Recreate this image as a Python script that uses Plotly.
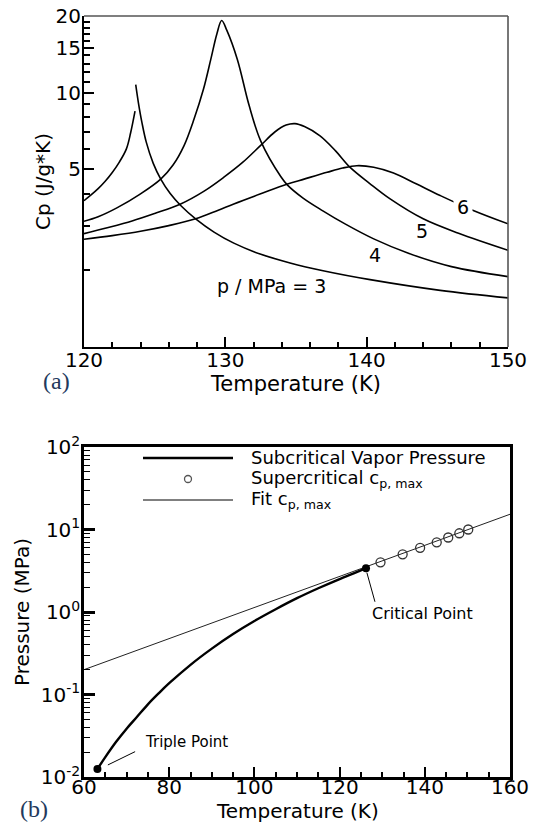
import numpy as np
import plotly.graph_objects as go

# ---------------- Panel (a) data: Cp vs Temperature ----------------
T_p3_liq = [120, 120.5, 121, 121.5, 122, 122.5, 123, 123.3, 123.61]
cp_p3_liq = [3.76, 3.96, 4.19, 4.48, 4.85, 5.33, 6.01, 6.95, 8.45]

T_p3_vap = [123.66, 123.85, 124.1, 124.4, 124.9, 125.43, 126.1, 126.84, 127.9, 129.2,
            130.6, 132.46, 134.58, 137.0, 140.24, 145.2, 150]
cp_p3_vap = [10.74, 9.12, 7.62, 6.40, 5.27, 4.57, 4.01, 3.60, 3.19, 2.83,
             2.56, 2.32, 2.14, 1.99, 1.84, 1.67, 1.56]

T_p4 = [120, 121, 122.36, 124.0, 125.43, 126.3, 127.08, 127.78, 128.45, 128.97, 129.4,
        129.74, 130.1, 130.85, 131.68, 132.5, 133.92, 134.4, 135.5, 136.9, 138.5, 140.5, 143, 146, 150]
cp_p4 = [3.12, 3.25, 3.53, 4.0, 4.57, 5.19, 6.19, 7.85, 10.3, 13.5, 17.0,
         19.2, 17.6, 13.5, 8.91, 6.46, 4.68, 4.33, 3.85, 3.43, 3.04, 2.66, 2.33, 2.07, 1.89]

T_p5 = [120, 121.5, 123.4, 125, 126.84, 128.5, 129.9, 131.2, 132.5, 133.5, 134.3, 134.93,
        135.6, 136.7, 137.8, 138.83, 140.2, 141.66, 144.0, 146.5, 150]
cp_p5 = [2.79, 2.93, 3.13, 3.35, 3.65, 4.1, 4.65, 5.3, 6.2, 7.0, 7.45, 7.55,
         7.35, 6.76, 5.9, 5.08, 4.4, 3.82, 3.19, 2.8, 2.40]

T_p6 = [120, 122, 124, 126, 127.9, 129.5, 130.6, 132.5, 134.4, 135.57, 137.2, 138.3,
        139.3, 140.5, 141.9, 143.5, 145.2, 147.5, 150]
cp_p6 = [2.65, 2.74, 2.85, 3.0, 3.19, 3.45, 3.65, 4.0, 4.37, 4.57, 4.86, 5.05,
         5.16, 5.09, 4.83, 4.38, 3.94, 3.45, 3.05]

# ---------------- Panel (b) data: Pressure vs Temperature ----------------
T_vap = [63.15, 65, 67.5, 70, 72.5, 75, 77.5, 80, 85, 90, 95, 100, 105, 110, 115, 120, 124, 126.2]
p_vap = [0.0125, 0.0174, 0.0265, 0.0385, 0.054, 0.076, 0.103, 0.137, 0.229, 0.360, 0.541,
         0.778, 1.08, 1.47, 1.94, 2.51, 3.04, 3.40]

T_triple = [63.15]
p_triple = [0.0125]
T_crit = [126.2]
p_crit = [3.40]

T_cpmax = [129.6, 134.8, 138.9, 142.8, 145.5, 148.1, 150.2]
p_cpmax = [4, 5, 6, 7, 8, 9, 10]

T_fit = [60, 160]
p_fit = [0.2, 15.3]

cp_ticks = [5, 10, 15, 20]
cp_minor = [2, 3, 4, 6, 7, 8, 9, 11, 12, 13, 14, 16, 17, 18, 19]
p_ticks = [0.01, 0.1, 1, 10, 100]
p_ticktext = ["10<sup>-2</sup>", "10<sup>-1</sup>", "10<sup>0</sup>", "10<sup>1</sup>", "10<sup>2</sup>"]
p_minor = [m * d for d in [0.01, 0.1, 1, 10] for m in range(2, 10)]

FONT = "DejaVu Sans"
OFF = 8  # page body margin of the html page
W, H = 537 - OFF, 822 - OFF
ML, MT = 84 - OFF, 16 - OFF
MR = W - (510 - OFF)
MB = H - (777 - OFF)
PW, PH = W - ML - MR, H - MT - MB

def px(xp):  # page pixel -> paper x
    return (xp - OFF - ML) / PW

def py(yp):  # page pixel -> paper y
    return (H - MB - (yp - OFF)) / PH

fig = go.Figure()

for T, cp in [(T_p3_liq, cp_p3_liq), (T_p3_vap, cp_p3_vap), (T_p4, cp_p4), (T_p5, cp_p5), (T_p6, cp_p6)]:
    fig.add_trace(go.Scatter(x=T, y=cp, mode="lines",
                             line=dict(color="black", width=1.6, shape="spline", smoothing=1.0),
                             xaxis="x", yaxis="y", showlegend=False, hoverinfo="skip"))

# Panel (b)
fig.add_trace(go.Scatter(x=T_fit, y=p_fit, mode="lines", line=dict(color="#222", width=1),
                         xaxis="x2", yaxis="y2", showlegend=False))
fig.add_trace(go.Scatter(x=T_vap, y=p_vap, mode="lines", line=dict(color="black", width=2.4, shape="spline"),
                         xaxis="x2", yaxis="y2", showlegend=False))
fig.add_trace(go.Scatter(x=T_cpmax, y=p_cpmax, mode="markers",
                         marker=dict(symbol="circle-open", size=9, color="#333", line=dict(width=1.3)),
                         xaxis="x2", yaxis="y2", showlegend=False))
fig.add_trace(go.Scatter(x=T_triple + T_crit, y=p_triple + p_crit, mode="markers",
                         marker=dict(symbol="circle", size=8, color="black"),
                         xaxis="x2", yaxis="y2", showlegend=False))

tickfont = dict(family=FONT, size=20, color="black")
ytitlefont = dict(family=FONT, size=20, color="black")
xtitlefont = dict(family=FONT, size=21, color="black")

common = dict(showgrid=False, zeroline=False, automargin=False, tickfont=tickfont, ticklabeloverflow="allow")

fig.update_layout(
    width=W, height=H,
    margin=dict(l=ML, r=MR, t=MT, b=MB, autoexpand=False),
    paper_bgcolor="white", plot_bgcolor="white",
    showlegend=False,
    xaxis=dict(domain=[0, (508 - 84) / PW], anchor="y", range=[120, 150],
               tickvals=[120, 130, 140, 150], ticks="inside", ticklen=10, tickwidth=2, tickcolor="black",
               minor=dict(dtick=2, tick0=120, ticks="inside", ticklen=5, tickwidth=1.5, tickcolor="black"),
               showline=True, linecolor="black", linewidth=2, ticklabelstandoff=-6,
               title=dict(text="Temperature (K)", font=xtitlefont, standoff=2), **common),
    yaxis=dict(domain=[py(347), 1], anchor="x", type="log", range=[0, np.log10(20)],
               tickvals=cp_ticks, ticktext=[str(v) for v in cp_ticks],
               ticks="inside", ticklen=10, tickwidth=2, tickcolor="black",
               minor=dict(tickvals=cp_minor, ticks="inside", ticklen=6, tickwidth=1.5, tickcolor="black"),
               showline=True, linecolor="black", linewidth=2, ticklabelstandoff=-3,
               title=dict(text="Cp (J/g*K)", font=ytitlefont, standoff=0), **common),
    xaxis2=dict(domain=[0, 1], anchor="y2", range=[60, 160], dtick=20, tick0=60,
                ticks="inside", ticklen=10, tickwidth=2, tickcolor="black",
                minor=dict(dtick=5, tick0=60, ticks="inside", ticklen=5, tickwidth=1.5, tickcolor="black"),
                showline=True, linecolor="black", linewidth=2.5, mirror=True, ticklabelstandoff=-10,
                **common),
    yaxis2=dict(domain=[0, py(447)], anchor="x2", type="log", range=[-2, 2],
                tickvals=p_ticks, ticktext=p_ticktext,
                ticks="inside", ticklen=11, tickwidth=2.5, tickcolor="black",
                minor=dict(tickvals=p_minor, ticks="inside", ticklen=6, tickwidth=1.3, tickcolor="black"),
                showline=True, linecolor="black", linewidth=2.5, mirror=True, ticklabelstandoff=-3,
                title=dict(text="Pressure (MPa)", font=ytitlefont, standoff=6), **common),
)

shapes = []
# grey top and right frame of panel (a)
shapes.append(dict(type="line", xref="x domain", yref="y domain", x0=0, x1=1, y0=1, y1=1,
                   line=dict(color="#555", width=1.6)))
shapes.append(dict(type="line", xref="x domain", yref="y domain", x0=1, x1=1, y0=0, y1=1,
                   line=dict(color="#555", width=1.6)))
# leader lines in panel (b)
shapes.append(dict(type="line", xref="x2", yref="y2", x0=126.4, y0=3.0, x1=128.3, y1=1.33,
                   line=dict(color="black", width=1)))
shapes.append(dict(type="line", xref="x2", yref="y2", x0=65.6, y0=0.0140, x1=72.0, y1=0.0203,
                   line=dict(color="black", width=1)))
# manual legend for panel (b)
shapes.append(dict(type="line", xref="paper", yref="paper", x0=px(143), x1=px(233), y0=py(458), y1=py(458),
                   line=dict(color="black", width=2.6)))
shapes.append(dict(type="circle", xref="paper", yref="paper", x0=px(184.5), x1=px(191.5), y0=py(482.5), y1=py(475.5),
                   line=dict(color="#555", width=1.3)))
shapes.append(dict(type="line", xref="paper", yref="paper", x0=px(143), x1=px(233), y0=py(500), y1=py(500),
                   line=dict(color="black", width=1)))
fig.update_layout(shapes=shapes)

ann = []
def a_text(x, y, text, size, xref="paper", yref="paper", xanchor="center", yanchor="middle", bg=None,
           family=FONT, color="black"):
    d = dict(x=x, y=y, xref=xref, yref=yref, text=text, showarrow=False, xanchor=xanchor, yanchor=yanchor,
             font=dict(family=family, size=size, color=color))
    if bg:
        d.update(bgcolor=bg, borderpad=3)
    ann.append(d)

# curve labels panel (a) (log axis -> log10 of value)
a_text(133.3, np.log10(1.73), "p / MPa = 3", 19, xref="x", yref="y")
a_text(140.6, np.log10(2.30), "4", 19, xref="x", yref="y")
a_text(143.9, np.log10(2.85), "5", 19, xref="x", yref="y")
a_text(146.8, np.log10(3.56), "6", 19, xref="x", yref="y", bg="white")
# panel letters
a_text(px(56), py(381), "(a)", 24, family="Liberation Serif", color="#23395d")
a_text(px(34), py(809), "(b)", 24, family="Liberation Serif", color="#23395d")
# x-axis title of panel (b)
a_text(px(297), py(811), "Temperature (K)", 20)
# point labels panel (b)
a_text(127.1, np.log10(0.97), "Critical Point", 16, xref="x2", yref="y2", xanchor="left")
a_text(73.9, np.log10(0.0266), "Triple Point", 15, xref="x2", yref="y2", xanchor="left")
# legend texts
a_text(px(249), py(457), "Subcritical Vapor Pressure", 18, xanchor="left")
a_text(px(249), py(479), "Supercritical c<sub>p, max</sub>", 18, xanchor="left")
a_text(px(249), py(500), "Fit c<sub>p, max</sub>", 18, xanchor="left")
fig.update_layout(annotations=ann)

fig.write_html("out.html")
